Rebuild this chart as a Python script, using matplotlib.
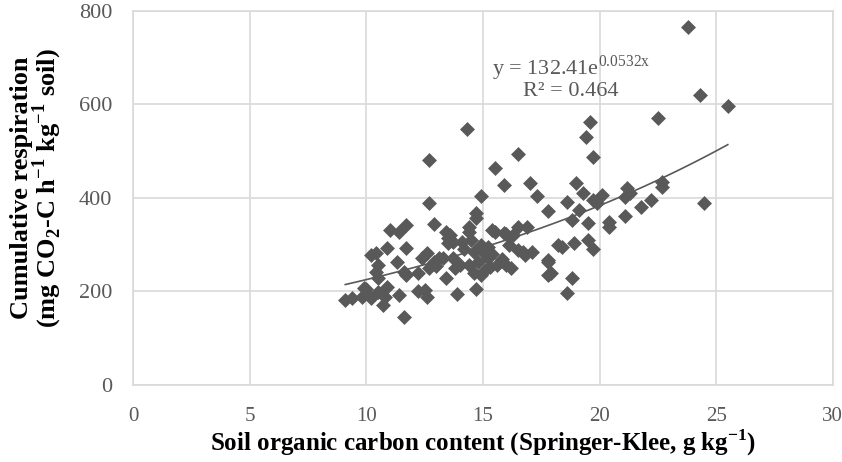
import numpy as np
import matplotlib.pyplot as plt

# soil organic carbon (g/kg) and cumulative respiration
soc = [23.8, 24.3, 25.5, 22.5, 24.5,
       19.6, 19.4, 19.7,
       19.0, 19.3, 18.6, 19.7, 20.1, 19.9, 21.2, 21.3, 21.1, 22.7, 22.7, 22.2,
       21.8, 19.1, 18.8, 19.5, 20.4, 20.4, 21.1, 18.4, 18.9, 19.5, 19.7, 18.8, 18.6,
       14.3, 12.7, 16.5, 15.5, 15.9, 17.0, 17.3, 17.8, 14.9, 12.7, 14.7, 12.9,
       14.4, 13.6, 13.5, 15.5, 16.0, 16.5, 16.9, 16.7, 17.1, 17.8, 17.9,
       11.0, 11.4, 11.7, 10.9, 11.7, 10.2, 10.4, 10.5, 10.4, 11.3, 11.6, 11.7,
       10.5, 9.9, 9.8, 9.1, 9.4, 10.2, 10.5, 10.9, 10.8, 10.7, 11.4, 11.6,
       12.5, 12.6, 12.4, 12.6, 12.9, 12.7, 13.1,
       14.7, 13.7, 14.4, 14.1, 14.6, 15.0, 14.8, 15.2, 14.4, 14.6, 14.0, 13.7,
       13.3, 13.4, 13.9, 14.7, 15.4, 15.9, 16.3, 15.3, 15.6, 16.0, 16.2, 16.5,
       16.8, 17.8, 17.8, 18.2, 13.4, 13.5, 15.1, 14.9,
       14.9, 15.2, 14.5, 15.4, 15.8, 14.2, 13.8, 16.1, 10.0, 12.2, 13.0, 12.2]
resp = [766, 620, 597, 571, 389,
        563, 530, 488,
        432, 410, 392, 396, 406, 389, 421, 410, 402, 434, 424, 396,
        381, 374, 353, 346, 349, 338, 361, 295, 303, 310, 291, 229, 197,
        548, 481, 494, 464, 428, 432, 404, 372, 404, 389, 367, 344,
        338, 321, 303, 327, 324, 338, 338, 284, 284, 267, 240,
        331, 327, 342, 293, 293, 278, 282, 257, 242, 263, 242, 235,
        229, 207, 188, 182, 186, 186, 199, 210, 188, 171, 193, 145,
        203, 188, 272, 282, 263, 250, 272,
        357, 306, 327, 306, 284, 284, 263, 272, 257, 240, 257, 272,
        272, 229, 195, 205, 331, 325, 321, 252, 257, 257, 250, 289,
        278, 263, 235, 299, 327, 314, 246, 235,
        300, 295, 310, 280, 270, 290, 250, 300, 205, 240, 255, 200]

# exponential trendline from the chart
a, b = 132.41, 0.0532

plt.rcParams['font.family'] = ['Liberation Serif', 'DejaVu Serif']
plt.rcParams['mathtext.fontset'] = 'custom'
plt.rcParams['mathtext.rm'] = 'Liberation Serif'
plt.rcParams['mathtext.bf'] = 'Liberation Serif:bold'

grey = '#595959'
grid = '#d9d9d9'

fig = plt.figure(figsize=(8.42, 4.62), dpi=100)
ax = fig.add_axes([0.158, 0.1667, 0.831, 0.8095])

ax.scatter(soc, resp, marker='D', s=58, color=grey, zorder=3, linewidths=0)
xs = np.linspace(min(soc), max(soc), 100)
ax.plot(xs, a * np.exp(b * xs), color=grey, lw=1.2, zorder=4)

ax.set_xlim(0, 30)
ax.set_ylim(0, 800)
ax.set_xticks(range(0, 31, 5))
ax.set_yticks(range(0, 801, 200))
ax.grid(True, color=grid, lw=1.2, zorder=0)
ax.set_axisbelow(True)
for s in ax.spines.values():
    s.set_color(grid)
    s.set_linewidth(1.2)
ax.tick_params(length=0, colors=grey)
ax.tick_params(axis='x', pad=16, labelsize=15)
ax.tick_params(axis='y', pad=15, labelsize=16)

ax.set_xlabel(r'Soil organic carbon content (Springer-Klee, g kg$^{\mathbf{-1}}$)',
              fontsize=18, fontweight='bold', labelpad=1)
ax.set_ylabel('Cumulative respiration\n'
              r'(mg CO$_{\mathbf{2}}$-C h$^{\mathbf{-1}}$ kg$^{\mathbf{-1}}$ soil)',
              fontsize=19, fontweight='bold', linespacing=0.9,
              va='center', ha='center')
ax.yaxis.set_label_coords(-0.137, 0.527)

ax.text(18.77, 678, r'y = 132.41e$^{\mathrm{0.0532x}}$', ha='center', va='center',
        fontsize=16, color=grey)
ax.text(18.77, 627, 'R² = 0.464', ha='center', va='center',
        fontsize=16, color=grey)

fig.savefig('out.png', dpi=100)
